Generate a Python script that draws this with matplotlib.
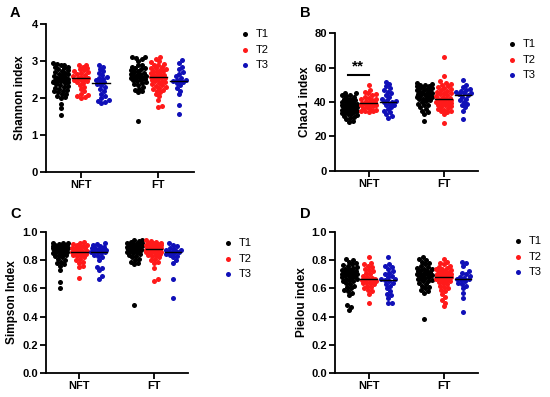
import numpy as np
import matplotlib
matplotlib.use("Agg")
import matplotlib.pyplot as plt

plt.rcParams['font.family'] = ['Liberation Sans', 'DejaVu Sans']

groups = ['NFT', 'FT']
series = ['T1', 'T2', 'T3']
colors = ['#000000', '#ff1a1a', '#1010b8']

# Shannon index
shannon = {
    ('NFT', 'T1'): [1.55, 1.72, 1.85, 2.00, 2.02, 2.05, 2.10, 2.12, 2.15, 2.18, 2.20, 2.22, 2.25, 2.28, 2.30,
                    2.32, 2.35, 2.38, 2.40, 2.42, 2.44, 2.45, 2.47, 2.48, 2.50, 2.50, 2.52, 2.54, 2.55, 2.58,
                    2.60, 2.62, 2.64, 2.66, 2.68, 2.70, 2.72, 2.75, 2.78, 2.80, 2.83, 2.85, 2.88, 2.90, 2.92, 2.95],
    ('NFT', 'T2'): [2.00, 2.02, 2.05, 2.08, 2.12, 2.18, 2.25, 2.30, 2.35, 2.40, 2.42, 2.45, 2.48, 2.50, 2.52,
                    2.55, 2.55, 2.58, 2.60, 2.62, 2.65, 2.68, 2.70, 2.72, 2.75, 2.78, 2.80, 2.85, 2.88, 2.90],
    ('NFT', 'T3'): [1.87, 1.90, 1.92, 1.95, 2.00, 2.05, 2.12, 2.20, 2.25, 2.30, 2.35, 2.38, 2.42, 2.45, 2.48,
                    2.52, 2.55, 2.58, 2.62, 2.68, 2.72, 2.78, 2.85, 2.88],
    ('FT', 'T1'): [1.37, 2.15, 2.18, 2.22, 2.25, 2.30, 2.35, 2.38, 2.40, 2.42, 2.45, 2.48, 2.50, 2.52, 2.54,
                   2.55, 2.57, 2.58, 2.60, 2.60, 2.62, 2.64, 2.65, 2.67, 2.70, 2.72, 2.75, 2.78, 2.80, 2.82,
                   2.85, 2.88, 2.90, 3.00, 3.05, 3.08, 3.10, 3.10],
    ('FT', 'T2'): [1.75, 1.78, 1.95, 2.05, 2.10, 2.15, 2.20, 2.22, 2.25, 2.28, 2.30, 2.33, 2.35, 2.38, 2.40,
                   2.42, 2.45, 2.47, 2.50, 2.52, 2.53, 2.55, 2.56, 2.58, 2.60, 2.62, 2.63, 2.65, 2.67, 2.70,
                   2.72, 2.74, 2.76, 2.78, 2.80, 2.82, 2.85, 2.88, 2.90, 2.93, 2.96, 3.00, 3.05, 3.10],
    ('FT', 'T3'): [1.57, 1.80, 2.10, 2.20, 2.28, 2.35, 2.40, 2.42, 2.45, 2.45, 2.48, 2.50, 2.55, 2.60, 2.65,
                   2.70, 2.78, 2.85, 2.95, 3.02],
}

# Chao1 index
chao1 = {
    ('NFT', 'T1'): [28.5, 29, 30, 31, 31.5, 32, 32.5, 33, 33, 33.5, 34, 34, 34.5, 35, 35, 35.5, 36, 36, 36.5,
                    37, 37, 37, 37.5, 38, 38, 38.5, 38.5, 39, 39, 39.5, 40, 40, 40.5, 41, 41, 41.5, 42, 42,
                    43, 43.5, 44, 44, 45, 45.5],
    ('NFT', 'T2'): [34, 34.5, 35, 35, 35.5, 36, 36.5, 37, 37.5, 38, 38, 38.5, 39, 39, 39, 39.5, 40, 40, 40.5,
                    41, 41.5, 42, 42.5, 43, 44, 44.5, 45, 46, 47, 50],
    ('NFT', 'T3'): [31, 32, 33, 34, 35, 36, 37, 38, 38.5, 39, 40, 40, 40.5, 41, 42, 43, 44, 45, 46, 47, 48,
                    49, 50.5, 51.5],
    ('FT', 'T1'): [29, 33, 34, 35, 36, 37, 38, 38.5, 39, 40, 40.5, 41, 41.5, 42, 42.5, 43, 43, 43.5, 44, 44,
                   44.5, 45, 45, 45.5, 46, 46.5, 47, 47, 47.5, 48, 48, 48.5, 49, 49.5, 50, 50, 50.5, 51],
    ('FT', 'T2'): [28, 33, 34, 34.5, 35, 35.5, 36, 36.5, 37, 37.5, 38, 38.5, 39, 39, 39.5, 40, 40, 40, 40.5,
                   41, 41, 41.5, 42, 42, 42.5, 43, 43.5, 44, 44.5, 45, 45.5, 46, 46.5, 47, 47.5, 48, 48.5,
                   49, 50, 50.5, 51, 52, 55, 66],
    ('FT', 'T3'): [30, 35, 37, 38, 39, 40, 41, 42, 43, 44, 44.5, 45, 45.5, 46, 46.5, 47, 47.5, 48.5, 50, 53],
}

# Simpson index
simpson = {
    ('NFT', 'T1'): [0.60, 0.645, 0.73, 0.76, 0.77, 0.78, 0.79, 0.80, 0.81, 0.82, 0.83, 0.835, 0.84, 0.845,
                    0.85, 0.855, 0.86, 0.86, 0.865, 0.87, 0.87, 0.87, 0.875, 0.88, 0.88, 0.88, 0.885, 0.885,
                    0.89, 0.89, 0.895, 0.895, 0.90, 0.90, 0.90, 0.905, 0.905, 0.91, 0.91, 0.91, 0.915,
                    0.92, 0.92, 0.92],
    ('NFT', 'T2'): [0.675, 0.75, 0.76, 0.78, 0.79, 0.80, 0.81, 0.82, 0.83, 0.835, 0.84, 0.845, 0.85, 0.855,
                    0.86, 0.86, 0.865, 0.87, 0.875, 0.88, 0.885, 0.89, 0.89, 0.895, 0.90, 0.905, 0.91,
                    0.915, 0.92, 0.93],
    ('NFT', 'T3'): [0.67, 0.69, 0.73, 0.745, 0.755, 0.80, 0.82, 0.83, 0.84, 0.85, 0.855, 0.86, 0.86, 0.865,
                    0.87, 0.875, 0.88, 0.885, 0.89, 0.895, 0.90, 0.91, 0.915, 0.92],
    ('FT', 'T1'): [0.48, 0.77, 0.78, 0.79, 0.80, 0.81, 0.82, 0.83, 0.84, 0.845, 0.85, 0.855, 0.86, 0.865,
                   0.87, 0.87, 0.875, 0.88, 0.88, 0.885, 0.885, 0.89, 0.89, 0.895, 0.895, 0.90, 0.90,
                   0.905, 0.91, 0.91, 0.915, 0.92, 0.92, 0.925, 0.93, 0.935, 0.94, 0.94],
    ('FT', 'T2'): [0.655, 0.665, 0.745, 0.78, 0.79, 0.80, 0.81, 0.82, 0.83, 0.835, 0.84, 0.845, 0.85, 0.855,
                   0.86, 0.86, 0.86, 0.865, 0.87, 0.87, 0.875, 0.88, 0.88, 0.88, 0.885, 0.885, 0.89, 0.89,
                   0.89, 0.895, 0.895, 0.90, 0.90, 0.905, 0.905, 0.91, 0.91, 0.915, 0.92, 0.92, 0.925,
                   0.93, 0.935, 0.94],
    ('FT', 'T3'): [0.535, 0.67, 0.78, 0.80, 0.82, 0.83, 0.84, 0.845, 0.85, 0.855, 0.86, 0.86, 0.865, 0.87,
                   0.875, 0.88, 0.89, 0.90, 0.91, 0.925],
}

# Pielou index
pielou = {
    ('NFT', 'T1'): [0.445, 0.47, 0.48, 0.55, 0.57, 0.58, 0.59, 0.60, 0.61, 0.62, 0.63, 0.64, 0.65, 0.655,
                    0.66, 0.665, 0.67, 0.675, 0.68, 0.685, 0.69, 0.695, 0.70, 0.70, 0.70, 0.705, 0.71, 0.71,
                    0.715, 0.72, 0.72, 0.725, 0.73, 0.735, 0.74, 0.745, 0.75, 0.76, 0.765, 0.77, 0.78,
                    0.79, 0.80, 0.81],
    ('NFT', 'T2'): [0.50, 0.56, 0.58, 0.59, 0.60, 0.61, 0.62, 0.63, 0.635, 0.64, 0.645, 0.65, 0.655, 0.66,
                    0.665, 0.665, 0.67, 0.675, 0.68, 0.69, 0.70, 0.71, 0.72, 0.73, 0.74, 0.75, 0.76, 0.77,
                    0.78, 0.82],
    ('NFT', 'T3'): [0.495, 0.50, 0.53, 0.55, 0.56, 0.58, 0.60, 0.62, 0.63, 0.64, 0.65, 0.66, 0.665, 0.67,
                    0.68, 0.69, 0.70, 0.71, 0.72, 0.74, 0.75, 0.76, 0.77, 0.82],
    ('FT', 'T1'): [0.385, 0.57, 0.58, 0.59, 0.60, 0.61, 0.62, 0.63, 0.64, 0.65, 0.655, 0.66, 0.665, 0.67,
                   0.675, 0.68, 0.685, 0.69, 0.695, 0.70, 0.70, 0.705, 0.71, 0.715, 0.72, 0.725, 0.73,
                   0.735, 0.74, 0.745, 0.75, 0.76, 0.77, 0.78, 0.79, 0.80, 0.81, 0.82],
    ('FT', 'T2'): [0.475, 0.50, 0.52, 0.54, 0.56, 0.58, 0.59, 0.60, 0.61, 0.62, 0.63, 0.64, 0.645, 0.65,
                   0.655, 0.66, 0.665, 0.67, 0.67, 0.675, 0.68, 0.68, 0.68, 0.685, 0.69, 0.69, 0.695, 0.70,
                   0.70, 0.705, 0.71, 0.715, 0.72, 0.725, 0.73, 0.735, 0.74, 0.745, 0.75, 0.76, 0.77,
                   0.78, 0.79, 0.81],
    ('FT', 'T3'): [0.43, 0.53, 0.57, 0.60, 0.62, 0.63, 0.64, 0.65, 0.66, 0.665, 0.67, 0.675, 0.68, 0.69,
                   0.70, 0.71, 0.72, 0.76, 0.78, 0.79],
}

panels = [
    ('A', shannon, 'Shannon index', (0, 4), [0, 1, 2, 3, 4], ['0', '1', '2', '3', '4']),
    ('B', chao1, 'Chao1 index', (0, 80), [0, 20, 40, 60, 80], ['0', '20', '40', '60', '80']),
    ('C', simpson, 'Simpson Index', (0, 1), [0, 0.2, 0.4, 0.6, 0.8, 1.0],
     ['0.0', '0.2', '0.4', '0.6', '0.8', '1.0']),
    ('D', pielou, 'Pielou index', (0, 1), [0, 0.2, 0.4, 0.6, 0.8, 1.0],
     ['0.0', '0.2', '0.4', '0.6', '0.8', '1.0']),
]

W, H = 550, 397
# axes rectangles in pixels: left, top, right, bottom
rects = [(46, 24, 194, 172), (335, 33, 478, 171), (46, 232, 188, 373), (335, 232, 478, 373)]
letter_pos = [(10, 13), (300, 13), (10, 214), (300, 214)]
ylabel_x = [26, 311, 18, 308]
legend_pos = [(229, 19), (496, 29), (212, 228), (502, 226)]
offsets = [-0.26, 0.0, 0.26]


def swarm(ax, x0, vals, d=3.8, cap=7.5):
    # simple beeswarm in pixel space, limited width (points may overlap like GraphPad)
    vals = np.asarray(vals, dtype=float)
    pts = ax.transData.transform(np.column_stack([np.full(len(vals), x0), vals]))
    cx = pts[0, 0]
    cands = [0.0]
    k = 1
    while k * 0.5 <= cap:
        cands += [k * 0.5, -k * 0.5]
        k += 1
    placed = []
    out = np.zeros(len(vals))
    for i in np.argsort(vals):
        y = pts[i, 1]
        best, best_d = 0.0, -1.0
        for off in cands:
            md = min([np.hypot(px - cx - off, py - y) for px, py in placed] + [99.0])
            if md >= d:
                best = off
                break
            if md > best_d:
                best, best_d = off, md
        placed.append((cx + best, y))
        out[i] = cx + best
    return ax.transData.inverted().transform(np.column_stack([out, pts[:, 1]]))[:, 0]


fig = plt.figure(figsize=(5.5, 3.97), dpi=100)

for p, (letter, data, ylabel, ylim, yticks, yticklabels) in enumerate(panels):
    l, t, r, b = rects[p]
    ax = fig.add_axes([l / W, 1 - b / H, (r - l) / W, (b - t) / H])
    ax.set_xlim(-0.45, 1.46)
    ax.set_ylim(*ylim)
    for gi, g in enumerate(groups):
        for si, s in enumerate(series):
            vals = data[(g, s)]
            x0 = gi + offsets[si]
            xs = swarm(ax, x0, vals)
            ax.scatter(xs, vals, s=13, color=colors[si], linewidths=0, zorder=3,
                       label=s if gi == 0 else None, clip_on=False)
            med = np.median(vals)
            ax.plot([x0 - 0.11, x0 + 0.11], [med, med], color='black', lw=1.0, zorder=4)
    for side in ['top', 'right']:
        ax.spines[side].set_visible(False)
    for side in ['left', 'bottom']:
        ax.spines[side].set_linewidth(1.3)
    ax.set_xticks([0, 1])
    ax.set_xticklabels(groups, fontsize=8, fontweight='bold')
    ax.set_yticks(yticks)
    ax.set_yticklabels(yticklabels, fontsize=8, fontweight='bold')
    ax.tick_params(width=1.3, length=4, pad=2)
    ax.set_ylabel(ylabel, fontsize=8.5, fontweight='bold')
    ax.yaxis.set_label_coords((ylabel_x[p] - l) / (r - l), 0.5)
    fig.text(letter_pos[p][0] / W, 1 - letter_pos[p][1] / H, letter, fontsize=10.5,
             fontweight='bold', va='center')
    lx, ly = legend_pos[p]
    ax.legend(loc='upper left', bbox_to_anchor=(lx / W, 1 - ly / H), bbox_transform=fig.transFigure,
              frameon=False, fontsize=8, handletextpad=0.5, labelspacing=0.5, markerscale=1.0,
              handlelength=1.0)
    if letter == 'B':
        ax.plot([-0.28, 0.0], [55.8, 55.8], color='black', lw=1.5)
        ax.text(-0.14, 56.5, '**', ha='center', va='bottom', fontsize=11, fontweight='bold')

fig.savefig('out.png', dpi=100)
